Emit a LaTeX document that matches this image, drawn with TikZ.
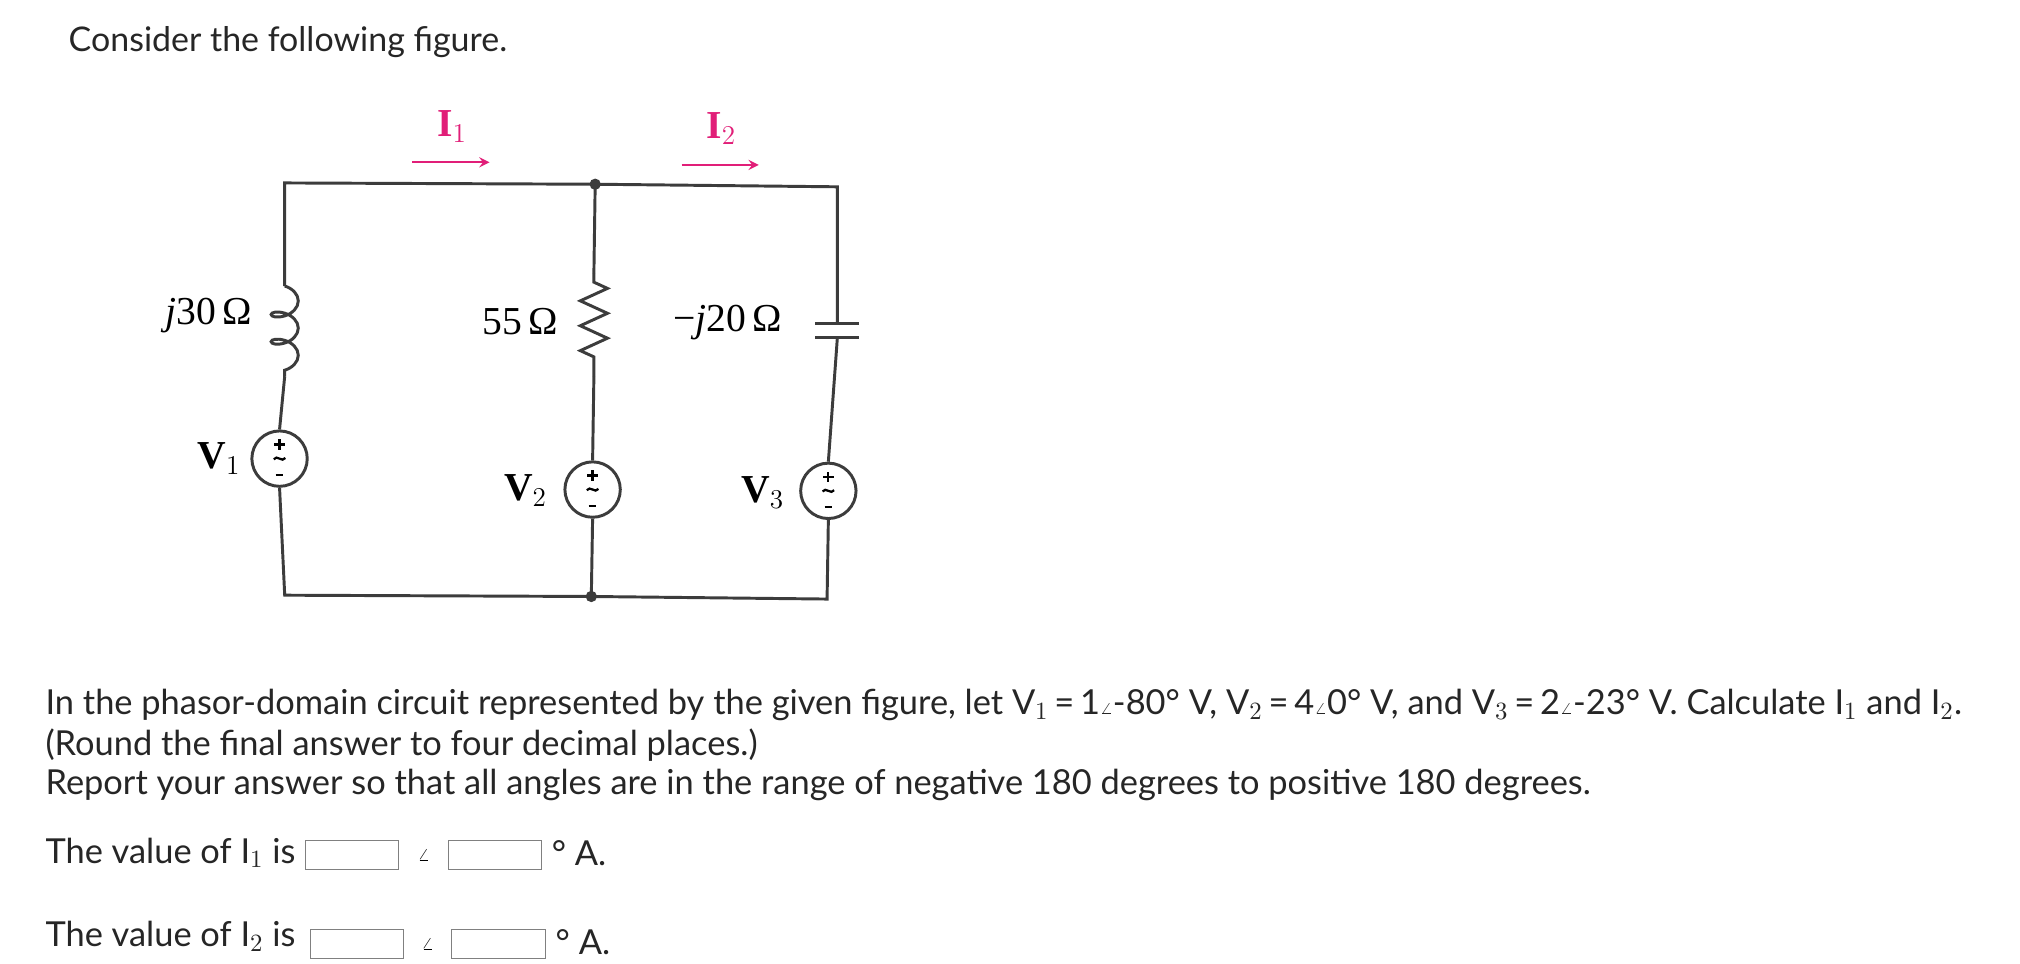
\documentclass[tikz,border=0pt]{standalone}
\usepackage{fontspec}
\setmainfont{Lato}
\newfontfamily\circfont{Liberation Serif}
\usetikzlibrary{decorations.pathmorphing}
\definecolor{mag}{RGB}{225,30,120}
\definecolor{wire}{RGB}{60,60,60}
\begin{document}
\begin{tikzpicture}[x=0.02cm,y=-0.02cm,
  txt/.style={anchor=west,inner sep=0,font=\fontsize{15.2}{18}\selectfont,text=black!85},
  lbl/.style={inner sep=0,font=\circfont\fontsize{17.5}{20}\selectfont},
  vlbl/.style={inner sep=0,font=\circfont\bfseries\fontsize{17.5}{20}\selectfont},
  curlbl/.style={inner sep=0,text=mag,font=\circfont\bfseries\fontsize{17.5}{20}\selectfont},
  wr/.style={line width=1.3pt,draw=wire},
  src/.style={circle,draw=wire,line width=1.3pt,minimum size=0.86cm,inner sep=0,fill=white},
  dot/.style={circle,fill=wire,inner sep=0,minimum size=5pt},
  ansbox/.style={draw=black!50,minimum width=1.45cm,minimum height=0.45cm,inner sep=0}]
\fill[white] (0,0) rectangle (1568,748);
\useasboundingbox (0,0) rectangle (1568,748);
\node[txt,font=\fontsize{15}{18}\selectfont] (t0) at (53,33) {Consider the following figure.};
% circuit nodes
\coordinate (tl) at (221,142);
\coordinate (tm) at (462,143);
\coordinate (tr) at (650,145);
\coordinate (bl) at (221,462);
\coordinate (bm) at (459,463);
\coordinate (br) at (642,465);
\coordinate (la) at (221,222);
\coordinate (lb) at (221,292);
\coordinate (ma) at (461,212);
\coordinate (mb) at (461,292);
\coordinate (ca) at (650,251);
\coordinate (cb) at (650,262);
\node[src] (s1) at (217,356) {};
\node[src] (s2) at (460,380) {};
\node[src] (s3) at (643,381) {};
% wires
\draw[wr] (la) -- (tl) -- (tm) -- (tr) -- (ca);
\draw[wr] (cb) -- (s3.north);
\draw[wr] (s3.south) -- (br) -- (bm) -- (bl) -- (s1.south);
\draw[wr] (s1.north) -- (lb);
\draw[wr] (tm) -- (ma);
\draw[wr] (mb) -- (s2.north);
\draw[wr] (s2.south) -- (bm);
% inductor
\draw[wr,decorate,decoration={coil,aspect=0.6,segment length=12pt,amplitude=6pt}] (la) -- (lb);
% resistor
\draw[wr,decorate,decoration={zigzag,segment length=11pt,amplitude=6pt,pre length=4pt,post length=4pt}] (ma) -- (mb);
% capacitor
\draw[wr] ([xshift=-0.34cm]ca) -- ([xshift=0.34cm]ca);
\draw[wr] ([xshift=-0.34cm]cb) -- ([xshift=0.34cm]cb);
\node[dot] (d1) at (tm) {};
\node[dot] (d2) at (bm) {};
% source symbols (drawn as strokes)
\foreach \s in {s1,s2,s3}{
  \draw[line width=1pt] ([xshift=-0.08cm,yshift=0.22cm]\s.center) -- ([xshift=0.08cm,yshift=0.22cm]\s.center)
    ([yshift=0.14cm]\s.center) -- ([yshift=0.30cm]\s.center);
  \draw[line width=1pt] ([xshift=-0.09cm,yshift=-0.01cm]\s.center) .. controls ([xshift=-0.04cm,yshift=0.07cm]\s.center) and ([xshift=0.04cm,yshift=-0.07cm]\s.center) .. ([xshift=0.09cm,yshift=0.01cm]\s.center);
  \draw[line width=1pt] ([xshift=-0.06cm,yshift=-0.25cm]\s.center) -- ([xshift=0.06cm,yshift=-0.25cm]\s.center);
}
% labels
\node[lbl] (l1) at (162,245) {\textit{j}30\,Ω};
\node[lbl] (l2) at (404,250) {55\,Ω};
\node[lbl] (l3) at (565,250) {−\textit{j}20\,Ω};
\node[vlbl] (v1) at (170,356) {V$_1$};
\node[vlbl] (v2) at (408,381) {V$_2$};
\node[vlbl] (v3) at (592,382) {V$_3$};
\node[curlbl] (i1) at (351,98) {I$_1$};
\node[curlbl] (i2) at (560,100) {I$_2$};
\coordinate (a1s) at (320,126); \coordinate (a1e) at (380,126);
\coordinate (a2s) at (529,128); \coordinate (a2e) at (589,128);
\draw[mag,line width=1pt,-stealth] (a1s) -- (a1e);
\draw[mag,line width=1pt,-stealth] (a2s) -- (a2e);
% text
\node[txt] (p1) at (35,547) {In the phasor-domain circuit represented by the given figure, let V$_1$\,=\,1{\scriptsize$\angle$}-80° V, V$_2$\,=\,4{\scriptsize$\angle$}0° V, and V$_3$\,=\,2{\scriptsize$\angle$}-23° V. Calculate I$_1$ and I$_2$.};
\node[txt] (p2) at (35,578) {(Round the final answer to four decimal places.)};
\node[txt] (p3) at (35,609) {Report your answer so that all angles are in the range of negative 180 degrees to positive 180 degrees.};
\node[txt] (q1) at (35,662) {The value of I$_1$ is};
\node[ansbox] (b1) at (273,664) {};
\node[inner sep=0,font=\scriptsize] (g1) at (329,664) {$\angle$};
\node[ansbox] (b2) at (384,664) {};
\node[txt] (u1) at (428,662) {° A.};
\node[txt] (q2) at (35,727) {The value of I$_2$ is};
\node[ansbox] (b3) at (277,733) {};
\node[inner sep=0,font=\scriptsize] (g2) at (332,733) {$\angle$};
\node[ansbox] (b4) at (387,733) {};
\node[txt] (u2) at (431,731) {° A.};
\end{tikzpicture}
\end{document}
